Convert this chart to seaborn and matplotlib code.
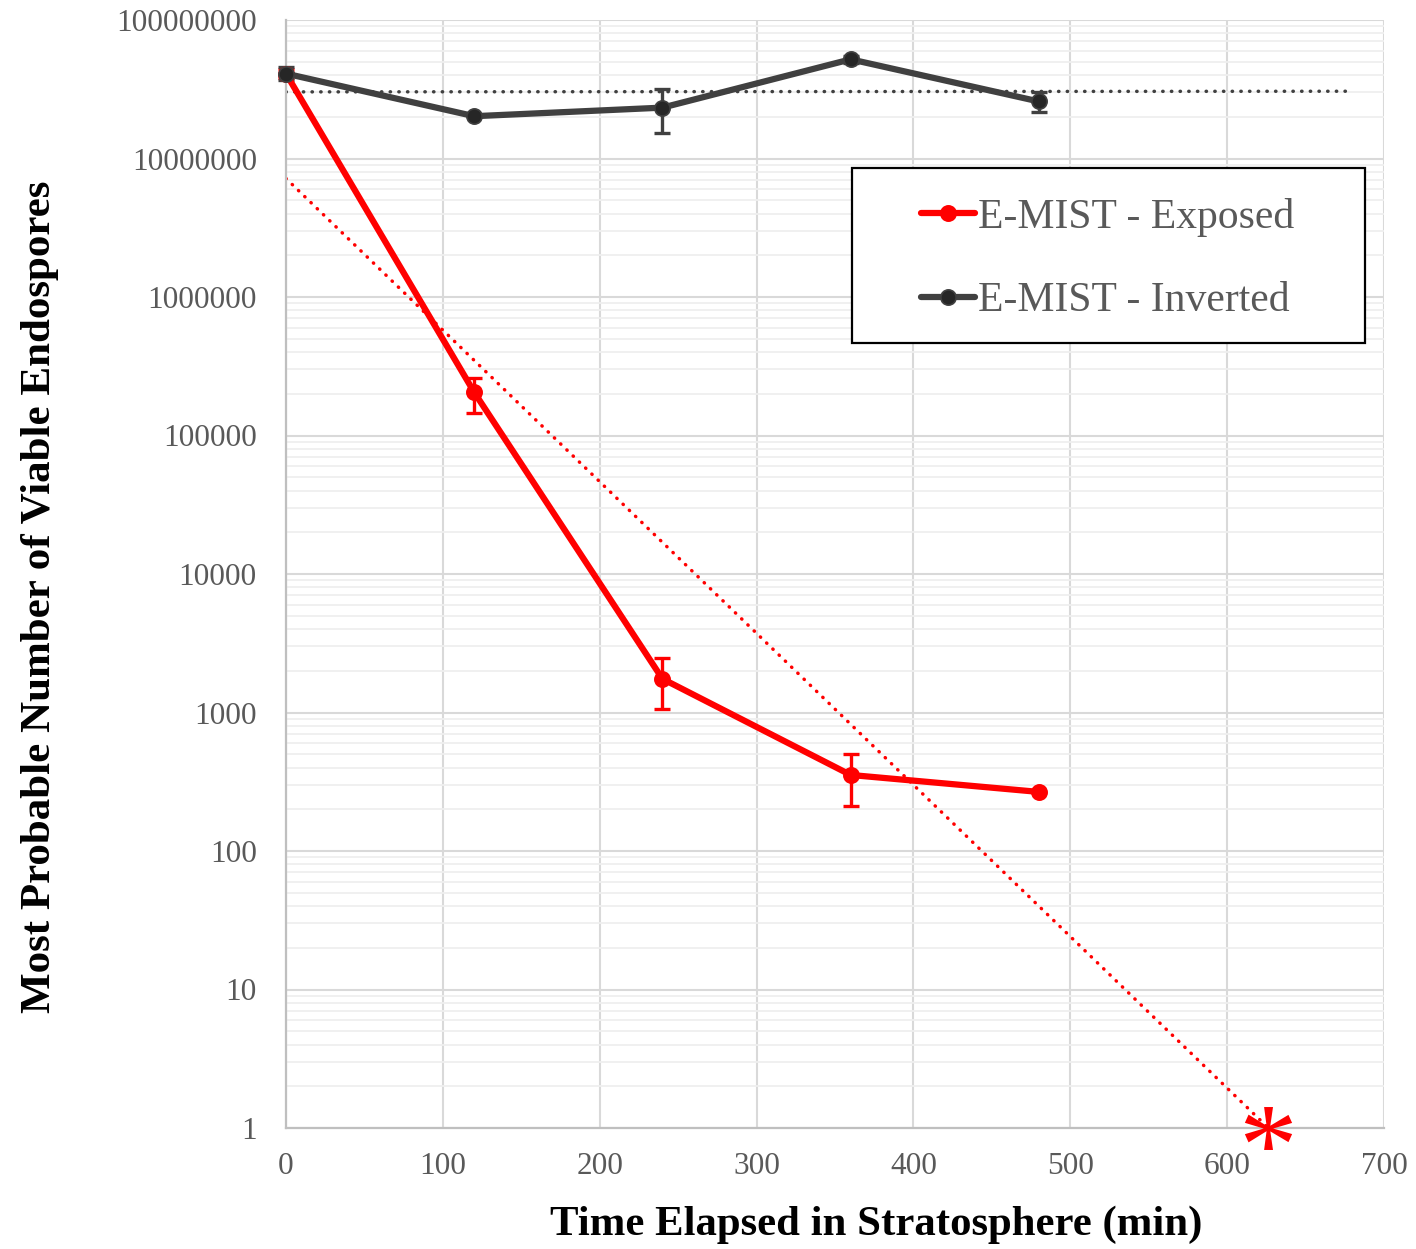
import numpy as np
import pandas as pd
import matplotlib
matplotlib.use("Agg")
import matplotlib.pyplot as plt
import matplotlib.ticker as mticker
from matplotlib.patches import Rectangle
import seaborn as sns

# ---------------- data ----------------
time_min = [0, 120, 240, 360, 480]
exposed_mpn = [4.1e7, 2.05e5, 1.75e3, 354, 267]
exposed_lo = [3.8e7, 1.45e5, 1.06e3, 211, 267]
exposed_hi = [4.4e7, 2.6e5, 2.48e3, 500, 267]
inverted_mpn = [4.1e7, 2.02e7, 2.33e7, 5.2e7, 2.58e7]
inverted_lo = [3.7e7, 2.02e7, 1.52e7, 4.9e7, 2.15e7]
inverted_hi = [4.6e7, 2.02e7, 3.2e7, 5.5e7, 3.0e7]
trend_end = 680
x_ticks = [0, 100, 200, 300, 400, 500, 600, 700]
y_ticks = [1, 10, 100, 1000, 10000, 100000, 1000000, 10000000, 100000000]
label_exposed = "E-MIST - Exposed"
label_inverted = "E-MIST - Inverted"
xlabel = "Time Elapsed in Stratosphere (min)"
ylabel = "Most Probable Number of Viable Endospores"

RED = "#ff0000"
DARK = "#404040"
MK_DARK = "#262626"
TXT = "#595959"

sns.set_theme(style="white")
plt.rcParams["font.family"] = ["Liberation Serif", "DejaVu Serif"]
plt.rcParams["mathtext.fontset"] = "custom"
plt.rcParams["mathtext.rm"] = "Liberation Serif"

fig = plt.figure(figsize=(14.16, 12.49), dpi=100)
ax = fig.add_axes([286 / 1416, 1 - 1128 / 1249, 1098 / 1416, 1108 / 1249])
ax.set_yscale("log")

df = pd.DataFrame({
    "t": time_min * 2,
    "mpn": exposed_mpn + inverted_mpn,
    "series": [label_exposed] * 5 + [label_inverted] * 5,
})

# trendlines (exponential fit, as in the spreadsheet)
t_fit = np.linspace(0, trend_end, 300)
for vals, col in [(exposed_mpn, RED), (inverted_mpn, DARK)]:
    a, b = np.polyfit(time_min, np.log10(vals), 1)
    sns.lineplot(x=t_fit, y=10 ** (a * t_fit + b), ax=ax, color=col, lw=2.5,
                 linestyle=(0, (0.1, 2.4)), dash_capstyle="round",
                 legend=False, zorder=2)

# main series
for lab, col, mk, vals, lo, hi in [
    (label_exposed, RED, RED, exposed_mpn, exposed_lo, exposed_hi),
    (label_inverted, DARK, MK_DARK, inverted_mpn, inverted_lo, inverted_hi),
]:
    sub = df[df["series"] == lab]
    sns.lineplot(data=sub, x="t", y="mpn", ax=ax, color=col, lw=4.5,
                 marker="o", markersize=11, markerfacecolor=mk,
                 markeredgecolor=col, markeredgewidth=1.2,
                 label=lab, zorder=4, clip_on=False)
    v = np.array(vals)
    l = np.array(lo)
    h = np.array(hi)
    m = h > l
    ax.errorbar(np.array(time_min)[m], v[m],
                yerr=[v[m] - l[m], h[m] - v[m]], fmt="none",
                ecolor=col, elinewidth=2.4, capsize=6, capthick=2.4,
                zorder=3, clip_on=False)

# asterisk where the exposed trendline reaches 1
a, b = np.polyfit(time_min, np.log10(exposed_mpn), 1)
t0 = -b / a
ax.plot([t0], [1], marker=r"$\mathrm{*}$", markersize=34, color=RED,
        markeredgewidth=0, linestyle="none", clip_on=False, zorder=6)

# axes styling
ax.set_xlim(0, 700)
ax.set_ylim(1, 1e8)
ax.set_xticks(x_ticks)
ax.set_yticks(y_ticks)
ax.yaxis.set_major_formatter(mticker.FuncFormatter(lambda v, p: f"{int(round(v))}"))
ax.yaxis.set_minor_locator(mticker.LogLocator(base=10, subs=np.arange(2, 10), numticks=100))
ax.yaxis.set_minor_formatter(mticker.NullFormatter())
ax.tick_params(axis="both", which="both", length=0, labelsize=22.5, labelcolor=TXT)
ax.tick_params(axis="y", pad=21)
ax.tick_params(axis="x", pad=17)

ax.grid(True, which="major", axis="both", color="#d9d9d9", lw=1.5, zorder=0)
ax.grid(True, which="minor", axis="y", color="#efefef", lw=1.3, zorder=0)
ax.set_axisbelow(True)
for s in ["top", "right"]:
    ax.spines[s].set_visible(False)
for s in ["left", "bottom"]:
    ax.spines[s].set_color("#bfbfbf")
    ax.spines[s].set_linewidth(1.6)

ax.set_xlabel(xlabel, fontsize=30.8, fontweight="bold", color="black", va="center")
ax.xaxis.set_label_coords((876 - 286) / 1098, (1128 - 1225) / 1108)
ax.set_ylabel(ylabel, fontsize=31, fontweight="bold", color="black", va="center")
ax.yaxis.set_label_coords((40 - 286) / 1098, (1128 - 597) / 1108)

# legend box
rect = Rectangle(((852 - 286) / 1098, (1128 - 343) / 1108), (1365 - 852) / 1098,
                 (343 - 168) / 1108, transform=ax.transAxes, facecolor="white",
                 edgecolor="black", lw=1.6, zorder=7, clip_on=False)
ax.add_patch(rect)
leg = ax.legend(loc="center", bbox_to_anchor=((1107.5 - 286) / 1098, (1128 - 259) / 1108),
                frameon=False, fontsize=30, labelcolor=TXT, handlelength=1.3,
                handletextpad=0.05, labelspacing=1.08, borderpad=0)
leg.set_zorder(8)

fig.savefig("out.png", dpi=100)
